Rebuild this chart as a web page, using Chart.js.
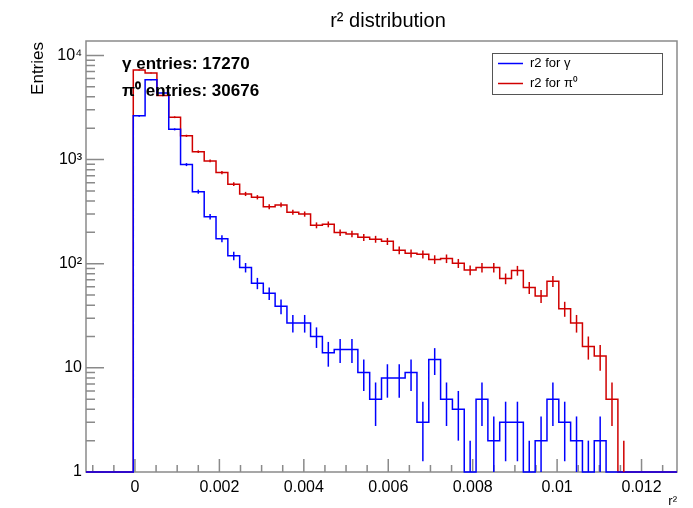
<!DOCTYPE html>
<html><head><meta charset="utf-8">
<script src="https://cdn.jsdelivr.net/npm/chart.js@4.4.0/dist/chart.umd.min.js"></script>
<style>html,body{margin:0;padding:0;background:#fff;}canvas{display:block;}</style>
</head><body>
<canvas id="c" width="693" height="508"></canvas>
<script>
// ---- histogram binning ----
const BIN_MIN = -0.00116;
const BIN_WIDTH = 0.00028;

// ---- counts per bin (50 bins) ----
const gammaCounts = [0,0,0,0,2630,5840,4350,1950,895,492,
  283,174,119,92,65,52,39,27,27,20,
  14,15,15,9,5,8,8,9,3,12,
  5,4,1,5,2,3,3,1,2,5,
  3,2,1,2,0,0,0,0,0,0];
const pi0Counts = [0,0,0,0,7250,6770,4125,2550,1690,1190,
  971,750,580,468,435,353,367,312,300,234,
  239,199,193,179,172,164,135,126,123,110,
  112,101,87,92,92,72,86,59,49,68,
  37,27,16,13,5,1,0,0,0,0];

const seriesLabels = ['r2 for \u03b3', 'r2 for \u03c0\u2070'];
const entryTexts = ['\u03b3 entries: 17270', '\u03c0\u2070 entries: 30676'];

// ---- axes ----
const X_MIN = -0.00116, X_MAX = 0.01284;
const Y_MIN = 1, Y_MAX = 13750;
const xMajorTicks = [0, 0.002, 0.004, 0.006, 0.008, 0.01, 0.012];
const xMajorLabels = ['0', '0.002', '0.004', '0.006', '0.008', '0.01', '0.012'];
const xMinorStep = 0.0005;
const yDecades = [1, 10, 100, 1000, 10000];
const yDecadeLabels = ['1', '10', '10\u00b2', '10\u00b3', '10\u2074'];

const BLUE = '#0000ff';
const RED = '#d00000';
const FONT = '"Liberation Sans", Arial, sans-serif';

function stepPoints(counts) {
  const pts = counts.map((c, i) => ({ x: BIN_MIN + i * BIN_WIDTH, y: Math.max(c, Y_MIN) }));
  pts.push({ x: BIN_MIN + counts.length * BIN_WIDTH, y: Math.max(counts[counts.length - 1], Y_MIN) });
  return pts;
}

const xTickValues = [];
for (let k = Math.ceil(X_MIN / xMinorStep); k * xMinorStep <= X_MAX + 1e-12; k++) {
  xTickValues.push(+(k * xMinorStep).toFixed(5));
}
const yTickValues = [];
yDecades.forEach(d => { for (let m = 1; m <= 9; m++) { const v = d * m; if (v <= Y_MAX) yTickValues.push(v); } });

function xLabelFor(v) {
  const i = xMajorTicks.findIndex(t => Math.abs(t - v) < 1e-9);
  return i >= 0 ? xMajorLabels[i] : '';
}
function yLabelFor(v) {
  const i = yDecades.findIndex(t => Math.abs(t - v) < 1e-9);
  return i >= 0 ? yDecadeLabels[i] : '';
}

const rootPlugin = {
  id: 'rootStyle',
  beforeDatasetsDraw(chart) {
    const ctx = chart.ctx, xs = chart.scales.x, ys = chart.scales.y, a = chart.chartArea;
    ctx.save();
    ctx.strokeStyle = '#8a8a8a'; ctx.lineWidth = 1.5;
    ctx.strokeRect(a.left, a.top, a.right - a.left, a.bottom - a.top);
    ctx.beginPath();
    ys.ticks.forEach(t => {
      const py = ys.getPixelForValue(t.value);
      const len = yLabelFor(t.value) ? 18 : 9;
      ctx.moveTo(a.left, py); ctx.lineTo(a.left + len, py);
    });
    xs.ticks.forEach(t => {
      const px = xs.getPixelForValue(t.value);
      const len = xLabelFor(t.value) ? 13 : 7;
      ctx.moveTo(px, a.bottom); ctx.lineTo(px, a.bottom - len);
    });
    ctx.stroke();
    ctx.restore();
  },
  afterDatasetsDraw(chart) {
    const ctx = chart.ctx, xs = chart.scales.x, ys = chart.scales.y, a = chart.chartArea;
    ctx.save();
    ctx.beginPath(); ctx.rect(a.left, a.top, a.right - a.left, a.bottom - a.top); ctx.clip();
    [1, 0].forEach(di => {
      const ds = chart.data.datasets[di];
      ctx.strokeStyle = ds.borderColor; ctx.lineWidth = ds.borderWidth;
      ds.counts.forEach((c, i) => {
        if (c <= 0) return;
        const e = Math.sqrt(c);
        const px = xs.getPixelForValue(BIN_MIN + (i + 0.5) * BIN_WIDTH);
        const yt = ys.getPixelForValue(c + e);
        const lo = c - e;
        const yb = lo > Y_MIN ? ys.getPixelForValue(lo) : a.bottom;
        ctx.beginPath(); ctx.moveTo(px, Math.max(yt, a.top)); ctx.lineTo(px, yb); ctx.stroke();
      });
    });
    ctx.restore();
  },
  afterDraw(chart) {
    const ctx = chart.ctx, a = chart.chartArea;
    ctx.save();
    ctx.fillStyle = '#000';
    ctx.font = '20px ' + FONT; ctx.textAlign = 'center'; ctx.textBaseline = 'alphabetic';
    ctx.fillText('r\u00b2 distribution', 388, 27);
    ctx.font = '13px ' + FONT; ctx.textAlign = 'right';
    ctx.fillText('r\u00b2', a.right, 505);
    ctx.save();
    ctx.translate(43, a.top + 1); ctx.rotate(-Math.PI / 2);
    ctx.font = '17px ' + FONT; ctx.textAlign = 'right'; ctx.textBaseline = 'alphabetic';
    ctx.fillText('Entries', 0, 0);
    ctx.restore();
    ctx.font = 'bold 17px ' + FONT; ctx.textAlign = 'left';
    ctx.fillText(entryTexts[0], 122, 69);
    ctx.fillText(entryTexts[1], 122, 95.5);
    ctx.fillStyle = '#fff';
    ctx.fillRect(492, 53, 171, 41);
    ctx.strokeStyle = '#555'; ctx.lineWidth = 1;
    ctx.strokeRect(492.5, 53.5, 170, 41);
    const rows = [63.5, 83.5];
    chart.data.datasets.forEach((ds, i) => {
      ctx.strokeStyle = ds.borderColor; ctx.lineWidth = 1.5;
      ctx.beginPath(); ctx.moveTo(498, rows[i]); ctx.lineTo(523, rows[i]); ctx.stroke();
      ctx.fillStyle = '#000'; ctx.font = '13px ' + FONT; ctx.textBaseline = 'middle';
      ctx.fillText(ds.label, 530, rows[i]);
    });
    ctx.restore();
  }
};

new Chart(document.getElementById('c'), {
  type: 'line',
  data: {
    datasets: [
      { label: seriesLabels[0], data: stepPoints(gammaCounts), counts: gammaCounts,
        borderColor: BLUE, borderWidth: 1.5, stepped: true, pointRadius: 0, fill: false, clip: 2 },
      { label: seriesLabels[1], data: stepPoints(pi0Counts), counts: pi0Counts,
        borderColor: RED, borderWidth: 1.5, stepped: true, pointRadius: 0, fill: false, clip: 2 }
    ]
  },
  options: {
    responsive: false, animation: false, devicePixelRatio: 1,
    layout: { padding: { left: 0, top: 41, right: 16, bottom: 0 } },
    plugins: { legend: { display: false }, title: { display: false }, tooltip: { enabled: false } },
    scales: {
      x: {
        type: 'linear', min: X_MIN, max: X_MAX, bounds: 'data',
        grid: { display: false, drawTicks: false }, border: { display: false },
        afterBuildTicks: s => { s.ticks = xTickValues.map(v => ({ value: v })); },
        afterFit: s => { s.height = 36; },
        ticks: { autoSkip: false, maxRotation: 0, minRotation: 0, padding: 6, color: '#000',
          font: { family: FONT, size: 16 }, callback: v => xLabelFor(v) }
      },
      y: {
        type: 'logarithmic', min: Y_MIN, max: Y_MAX, bounds: 'data',
        grid: { display: false, drawTicks: false }, border: { display: false },
        afterBuildTicks: s => { s.ticks = yTickValues.map(v => ({ value: v })); },
        afterFit: s => { s.width = 86; },
        ticks: { autoSkip: false, padding: 4, color: '#000',
          font: { family: FONT, size: 16 }, callback: v => yLabelFor(v) }
      }
    }
  },
  plugins: [rootPlugin]
});
</script>
</body></html>
